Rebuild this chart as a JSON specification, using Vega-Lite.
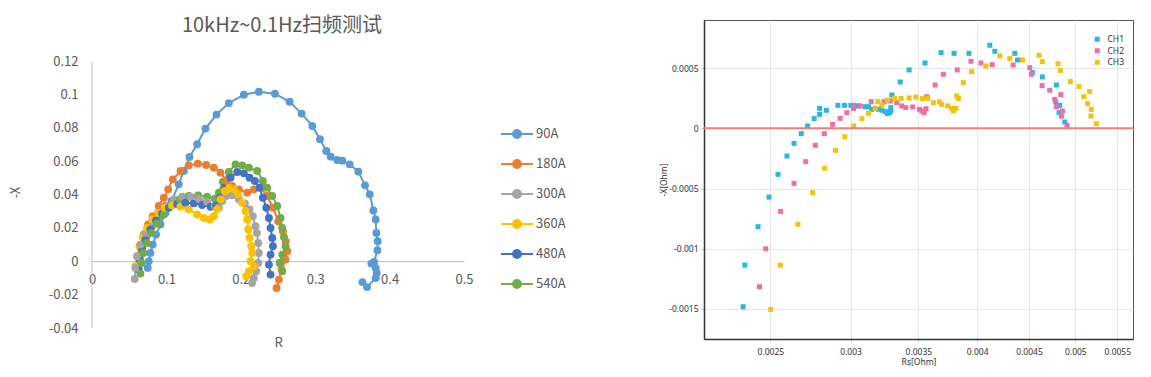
{
"$schema":"https://vega.github.io/schema/vega-lite/v6.json",
"padding":{"left":9,"top":16,"right":0,"bottom":0},
"background":"white",
"spacing":93,
"config":{"view":{"stroke":null},"axis":{"titleFontWeight":"normal","grid":false,"labelOverlap":false}},
"resolve":{"scale":{"color":"independent"},"legend":{"color":"independent"}},
"datasets":{
"yaxis":[{"ax":0,"lo":-0.04,"hi":0.12}],
"left":[
{"s":"90A","i":0,"R":0.0749,"X":-0.004},{"s":"90A","i":1,"R":0.0763,"X":0},{"s":"90A","i":2,"R":0.0785,"X":0.005},{"s":"90A","i":3,"R":0.0817,"X":0.01},{"s":"90A","i":4,"R":0.0861,"X":0.016},{"s":"90A","i":5,"R":0.092,"X":0.022},{"s":"90A","i":6,"R":0.0987,"X":0.029},{"s":"90A","i":7,"R":0.1068,"X":0.0361},{"s":"90A","i":8,"R":0.1166,"X":0.0461},{"s":"90A","i":9,"R":0.1234,"X":0.0541},{"s":"90A","i":10,"R":0.131,"X":0.0625},{"s":"90A","i":11,"R":0.1413,"X":0.0701},{"s":"90A","i":12,"R":0.1525,"X":0.0795},{"s":"90A","i":13,"R":0.1673,"X":0.0879},{"s":"90A","i":14,"R":0.1839,"X":0.0948},{"s":"90A","i":15,"R":0.2041,"X":0.0998},{"s":"90A","i":16,"R":0.2243,"X":0.1016},{"s":"90A","i":17,"R":0.2459,"X":0.1004},{"s":"90A","i":18,"R":0.2656,"X":0.0956},{"s":"90A","i":19,"R":0.2817,"X":0.0885},{"s":"90A","i":20,"R":0.2961,"X":0.0811},{"s":"90A","i":21,"R":0.3064,"X":0.0731},{"s":"90A","i":22,"R":0.3149,"X":0.0661},{"s":"90A","i":23,"R":0.3208,"X":0.0627},{"s":"90A","i":24,"R":0.3297,"X":0.0607},{"s":"90A","i":25,"R":0.3365,"X":0.0603},{"s":"90A","i":26,"R":0.3463,"X":0.0581},{"s":"90A","i":27,"R":0.358,"X":0.0537},{"s":"90A","i":28,"R":0.367,"X":0.0455},{"s":"90A","i":29,"R":0.3733,"X":0.0401},{"s":"90A","i":30,"R":0.3782,"X":0.0304},{"s":"90A","i":31,"R":0.3813,"X":0.025},{"s":"90A","i":32,"R":0.3822,"X":0.017},{"s":"90A","i":33,"R":0.384,"X":0.012},{"s":"90A","i":34,"R":0.3836,"X":0.0066},{"s":"90A","i":35,"R":0.3791,"X":-0.0004},{"s":"90A","i":36,"R":0.3755,"X":-0.0014},{"s":"90A","i":37,"R":0.3813,"X":-0.004},{"s":"90A","i":38,"R":0.3827,"X":-0.007},{"s":"90A","i":39,"R":0.3813,"X":-0.01},{"s":"90A","i":40,"R":0.3697,"X":-0.0155},{"s":"90A","i":41,"R":0.3635,"X":-0.0125},
{"s":"180A","i":0,"R":0.0606,"X":-0.003},{"s":"180A","i":1,"R":0.0619,"X":0.003},{"s":"180A","i":2,"R":0.0651,"X":0.01},{"s":"180A","i":3,"R":0.0695,"X":0.016},{"s":"180A","i":4,"R":0.0754,"X":0.022},{"s":"180A","i":5,"R":0.0817,"X":0.027},{"s":"180A","i":6,"R":0.0897,"X":0.0331},{"s":"180A","i":7,"R":0.0965,"X":0.0381},{"s":"180A","i":8,"R":0.1023,"X":0.0431},{"s":"180A","i":9,"R":0.1086,"X":0.0491},{"s":"180A","i":10,"R":0.1189,"X":0.0541},{"s":"180A","i":11,"R":0.1301,"X":0.0575},{"s":"180A","i":12,"R":0.1422,"X":0.0585},{"s":"180A","i":13,"R":0.1534,"X":0.0577},{"s":"180A","i":14,"R":0.1638,"X":0.0561},{"s":"180A","i":15,"R":0.1727,"X":0.0531},{"s":"180A","i":16,"R":0.1808,"X":0.0481},{"s":"180A","i":17,"R":0.1884,"X":0.0451},{"s":"180A","i":18,"R":0.1974,"X":0.0431},{"s":"180A","i":19,"R":0.2086,"X":0.0411},{"s":"180A","i":20,"R":0.2176,"X":0.0431},{"s":"180A","i":21,"R":0.2266,"X":0.0441},{"s":"180A","i":22,"R":0.2355,"X":0.0391},{"s":"180A","i":23,"R":0.2432,"X":0.0321},{"s":"180A","i":24,"R":0.2503,"X":0.024},{"s":"180A","i":25,"R":0.2566,"X":0.018},{"s":"180A","i":26,"R":0.2602,"X":0.012},{"s":"180A","i":27,"R":0.2625,"X":0.006},{"s":"180A","i":28,"R":0.2602,"X":0.001},{"s":"180A","i":29,"R":0.2548,"X":-0.005},{"s":"180A","i":30,"R":0.2512,"X":-0.011},{"s":"180A","i":31,"R":0.2481,"X":-0.016},
{"s":"300A","i":0,"R":0.0574,"X":-0.0106},{"s":"300A","i":1,"R":0.0583,"X":-0.004},{"s":"300A","i":2,"R":0.0606,"X":0.003},{"s":"300A","i":3,"R":0.0651,"X":0.01},{"s":"300A","i":4,"R":0.0718,"X":0.017},{"s":"300A","i":5,"R":0.0808,"X":0.024},{"s":"300A","i":6,"R":0.0897,"X":0.029},{"s":"300A","i":7,"R":0.0987,"X":0.0335},{"s":"300A","i":8,"R":0.1099,"X":0.0371},{"s":"300A","i":9,"R":0.1211,"X":0.0387},{"s":"300A","i":10,"R":0.1323,"X":0.0387},{"s":"300A","i":11,"R":0.1436,"X":0.0375},{"s":"300A","i":12,"R":0.1548,"X":0.0355},{"s":"300A","i":13,"R":0.1651,"X":0.0331},{"s":"300A","i":14,"R":0.1705,"X":0.0321},{"s":"300A","i":15,"R":0.175,"X":0.0361},{"s":"300A","i":16,"R":0.1803,"X":0.0391},{"s":"300A","i":17,"R":0.1884,"X":0.0395},{"s":"300A","i":18,"R":0.1974,"X":0.0371},{"s":"300A","i":19,"R":0.2055,"X":0.0347},{"s":"300A","i":20,"R":0.2118,"X":0.031},{"s":"300A","i":21,"R":0.2162,"X":0.027},{"s":"300A","i":22,"R":0.2198,"X":0.021},{"s":"300A","i":23,"R":0.2216,"X":0.017},{"s":"300A","i":24,"R":0.2234,"X":0.011},{"s":"300A","i":25,"R":0.2243,"X":0.005},{"s":"300A","i":26,"R":0.2234,"X":-0.001},{"s":"300A","i":27,"R":0.2207,"X":-0.006},{"s":"300A","i":28,"R":0.2176,"X":-0.01},{"s":"300A","i":29,"R":0.2153,"X":-0.013},
{"s":"360A","i":0,"R":0.0583,"X":-0.003},{"s":"360A","i":1,"R":0.0606,"X":0.003},{"s":"360A","i":2,"R":0.0637,"X":0.009},{"s":"360A","i":3,"R":0.0682,"X":0.0146},{"s":"360A","i":4,"R":0.074,"X":0.02},{"s":"360A","i":5,"R":0.0808,"X":0.025},{"s":"360A","i":6,"R":0.0888,"X":0.029},{"s":"360A","i":7,"R":0.0978,"X":0.0321},{"s":"360A","i":8,"R":0.1077,"X":0.0335},{"s":"360A","i":9,"R":0.1189,"X":0.0327},{"s":"360A","i":10,"R":0.1301,"X":0.0311},{"s":"360A","i":11,"R":0.1413,"X":0.028},{"s":"360A","i":12,"R":0.1503,"X":0.026},{"s":"360A","i":13,"R":0.1579,"X":0.025},{"s":"360A","i":14,"R":0.1638,"X":0.027},{"s":"360A","i":15,"R":0.1682,"X":0.0311},{"s":"360A","i":16,"R":0.1727,"X":0.0371},{"s":"360A","i":17,"R":0.1786,"X":0.0421},{"s":"360A","i":18,"R":0.1848,"X":0.0441},{"s":"360A","i":19,"R":0.1907,"X":0.0431},{"s":"360A","i":20,"R":0.1965,"X":0.0401},{"s":"360A","i":21,"R":0.2019,"X":0.0351},{"s":"360A","i":22,"R":0.2064,"X":0.03},{"s":"360A","i":23,"R":0.2086,"X":0.025},{"s":"360A","i":24,"R":0.21,"X":0.019},{"s":"360A","i":25,"R":0.2118,"X":0.014},{"s":"360A","i":26,"R":0.214,"X":0.009},{"s":"360A","i":27,"R":0.2153,"X":0.005},{"s":"360A","i":28,"R":0.2131,"X":0},{"s":"360A","i":29,"R":0.2176,"X":-0.003},{"s":"360A","i":30,"R":0.2109,"X":-0.006},{"s":"360A","i":31,"R":0.2073,"X":-0.009},
{"s":"480A","i":0,"R":0.0628,"X":-0.005},{"s":"480A","i":1,"R":0.0642,"X":0.001},{"s":"480A","i":2,"R":0.0673,"X":0.007},{"s":"480A","i":3,"R":0.0718,"X":0.013},{"s":"480A","i":4,"R":0.0785,"X":0.019},{"s":"480A","i":5,"R":0.0861,"X":0.0244},{"s":"480A","i":6,"R":0.0942,"X":0.0286},{"s":"480A","i":7,"R":0.1032,"X":0.0321},{"s":"480A","i":8,"R":0.1144,"X":0.0343},{"s":"480A","i":9,"R":0.1256,"X":0.0351},{"s":"480A","i":10,"R":0.1368,"X":0.0347},{"s":"480A","i":11,"R":0.148,"X":0.0337},{"s":"480A","i":12,"R":0.1593,"X":0.0327},{"s":"480A","i":13,"R":0.1669,"X":0.0335},{"s":"480A","i":14,"R":0.1723,"X":0.0381},{"s":"480A","i":15,"R":0.1786,"X":0.0441},{"s":"480A","i":16,"R":0.1862,"X":0.0501},{"s":"480A","i":17,"R":0.1952,"X":0.0535},{"s":"480A","i":18,"R":0.2041,"X":0.0527},{"s":"480A","i":19,"R":0.2118,"X":0.0501},{"s":"480A","i":20,"R":0.2189,"X":0.0481},{"s":"480A","i":21,"R":0.2252,"X":0.0441},{"s":"480A","i":22,"R":0.2297,"X":0.0381},{"s":"480A","i":23,"R":0.2342,"X":0.0321},{"s":"480A","i":24,"R":0.2378,"X":0.026},{"s":"480A","i":25,"R":0.24,"X":0.02},{"s":"480A","i":26,"R":0.2423,"X":0.014},{"s":"480A","i":27,"R":0.2432,"X":0.009},{"s":"480A","i":28,"R":0.24,"X":0.004},{"s":"480A","i":29,"R":0.2378,"X":-0.002},{"s":"480A","i":30,"R":0.24,"X":-0.008},
{"s":"540A","i":0,"R":0.0651,"X":-0.0074},{"s":"540A","i":1,"R":0.0664,"X":-0.001},{"s":"540A","i":2,"R":0.0691,"X":0.005},{"s":"540A","i":3,"R":0.0736,"X":0.011},{"s":"540A","i":4,"R":0.0799,"X":0.017},{"s":"540A","i":5,"R":0.0875,"X":0.0226},{"s":"540A","i":6,"R":0.0965,"X":0.028},{"s":"540A","i":7,"R":0.1068,"X":0.0335},{"s":"540A","i":8,"R":0.118,"X":0.0371},{"s":"540A","i":9,"R":0.1301,"X":0.0391},{"s":"540A","i":10,"R":0.1427,"X":0.0395},{"s":"540A","i":11,"R":0.1548,"X":0.0387},{"s":"540A","i":12,"R":0.1651,"X":0.0375},{"s":"540A","i":13,"R":0.1705,"X":0.0411},{"s":"540A","i":14,"R":0.1759,"X":0.0475},{"s":"540A","i":15,"R":0.1839,"X":0.0535},{"s":"540A","i":16,"R":0.1929,"X":0.0581},{"s":"540A","i":17,"R":0.2019,"X":0.0575},{"s":"540A","i":18,"R":0.2109,"X":0.0561},{"s":"540A","i":19,"R":0.2221,"X":0.0541},{"s":"540A","i":20,"R":0.2297,"X":0.0481},{"s":"540A","i":21,"R":0.2355,"X":0.0441},{"s":"540A","i":22,"R":0.2423,"X":0.0391},{"s":"540A","i":23,"R":0.249,"X":0.0331},{"s":"540A","i":24,"R":0.2535,"X":0.026},{"s":"540A","i":25,"R":0.2557,"X":0.02},{"s":"540A","i":26,"R":0.258,"X":0.0146},{"s":"540A","i":27,"R":0.2602,"X":0.009},{"s":"540A","i":28,"R":0.2557,"X":0.004},{"s":"540A","i":29,"R":0.2521,"X":-0.001},{"s":"540A","i":30,"R":0.2557,"X":-0.006}
],
"right":[
{"ch":"CH1","rs":0.00235,"x":-0.001482},{"ch":"CH1","rs":0.002359,"x":-0.001136},{"ch":"CH1","rs":0.002431,"x":-0.000817},{"ch":"CH1","rs":0.002492,"x":-0.000571},{"ch":"CH1","rs":0.002544,"x":-0.000382},{"ch":"CH1","rs":0.002596,"x":-0.00023},{"ch":"CH1","rs":0.002638,"x":-0.000125},{"ch":"CH1","rs":0.002682,"x":-0.0000443},{"ch":"CH1","rs":0.002721,"x":0.0000194},{"ch":"CH1","rs":0.002762,"x":0.0000803},{"ch":"CH1","rs":0.002796,"x":0.000116},{"ch":"CH1","rs":0.002796,"x":0.000166},{"ch":"CH1","rs":0.002839,"x":0.00015},{"ch":"CH1","rs":0.002915,"x":0.000191},{"ch":"CH1","rs":0.002959,"x":0.000191},{"ch":"CH1","rs":0.003002,"x":0.000191},{"ch":"CH1","rs":0.003032,"x":0.000186},{"ch":"CH1","rs":0.003055,"x":0.000186},{"ch":"CH1","rs":0.003101,"x":0.00018},{"ch":"CH1","rs":0.003125,"x":0.00018},{"ch":"CH1","rs":0.003148,"x":0.000158},{"ch":"CH1","rs":0.003197,"x":0.000158},{"ch":"CH1","rs":0.003221,"x":0.00015},{"ch":"CH1","rs":0.003245,"x":0.000139},{"ch":"CH1","rs":0.003262,"x":0.000122},{"ch":"CH1","rs":0.003277,"x":0.00013},{"ch":"CH1","rs":0.003287,"x":0.000144},{"ch":"CH1","rs":0.003287,"x":0.000172},{"ch":"CH1","rs":0.003295,"x":0.000277},{"ch":"CH1","rs":0.003358,"x":0.000385},{"ch":"CH1","rs":0.003427,"x":0.000485},{"ch":"CH1","rs":0.003553,"x":0.000543},{"ch":"CH1","rs":0.003685,"x":0.000629},{"ch":"CH1","rs":0.003795,"x":0.000623},{"ch":"CH1","rs":0.003926,"x":0.000623},{"ch":"CH1","rs":0.004117,"x":0.00069},{"ch":"CH1","rs":0.004164,"x":0.00064},{"ch":"CH1","rs":0.004357,"x":0.000623},{"ch":"CH1","rs":0.004384,"x":0.000568},{"ch":"CH1","rs":0.004535,"x":0.000463},{"ch":"CH1","rs":0.004639,"x":0.000427},{"ch":"CH1","rs":0.004789,"x":0.00036},{"ch":"CH1","rs":0.004782,"x":0.000219},{"ch":"CH1","rs":0.004826,"x":0.000191},{"ch":"CH1","rs":0.004818,"x":0.00013},{"ch":"CH1","rs":0.004881,"x":0.0000526},
{"ch":"CH2","rs":0.002439,"x":-0.001316},{"ch":"CH2","rs":0.002474,"x":-0.001},{"ch":"CH2","rs":0.002559,"x":-0.00069},{"ch":"CH2","rs":0.002638,"x":-0.000457},{"ch":"CH2","rs":0.002709,"x":-0.000277},{"ch":"CH2","rs":0.002769,"x":-0.000141},{"ch":"CH2","rs":0.002826,"x":-0.0000443},{"ch":"CH2","rs":0.00288,"x":0.0000332},{"ch":"CH2","rs":0.00293,"x":0.0000831},{"ch":"CH2","rs":0.002975,"x":0.00013},{"ch":"CH2","rs":0.00302,"x":0.000166},{"ch":"CH2","rs":0.00302,"x":0.000191},{"ch":"CH2","rs":0.003066,"x":0.000186},{"ch":"CH2","rs":0.003144,"x":0.000222},{"ch":"CH2","rs":0.003238,"x":0.000222},{"ch":"CH2","rs":0.003282,"x":0.000227},{"ch":"CH2","rs":0.003332,"x":0.000213},{"ch":"CH2","rs":0.00337,"x":0.000186},{"ch":"CH2","rs":0.003401,"x":0.000172},{"ch":"CH2","rs":0.003455,"x":0.000177},{"ch":"CH2","rs":0.003508,"x":0.000158},{"ch":"CH2","rs":0.003527,"x":0.000144},{"ch":"CH2","rs":0.003545,"x":0.00013},{"ch":"CH2","rs":0.003561,"x":0.000163},{"ch":"CH2","rs":0.003567,"x":0.000263},{"ch":"CH2","rs":0.003635,"x":0.00036},{"ch":"CH2","rs":0.003704,"x":0.000449},{"ch":"CH2","rs":0.003823,"x":0.000485},{"ch":"CH2","rs":0.003944,"x":0.000557},{"ch":"CH2","rs":0.004034,"x":0.000543},{"ch":"CH2","rs":0.004139,"x":0.000529},{"ch":"CH2","rs":0.004341,"x":0.000526},{"ch":"CH2","rs":0.004508,"x":0.000504},{"ch":"CH2","rs":0.004525,"x":0.000449},{"ch":"CH2","rs":0.004636,"x":0.000355},{"ch":"CH2","rs":0.004717,"x":0.000316},{"ch":"CH2","rs":0.004771,"x":0.000241},{"ch":"CH2","rs":0.004837,"x":0.00028},{"ch":"CH2","rs":0.004789,"x":0.00018},{"ch":"CH2","rs":0.004855,"x":0.000144},{"ch":"CH2","rs":0.004844,"x":0.000102},{"ch":"CH2","rs":0.004906,"x":0.0000249},
{"ch":"CH3","rs":0.002502,"x":-0.001504},{"ch":"CH3","rs":0.002557,"x":-0.001136},{"ch":"CH3","rs":0.002662,"x":-0.000798},{"ch":"CH3","rs":0.002752,"x":-0.000535},{"ch":"CH3","rs":0.002828,"x":-0.000332},{"ch":"CH3","rs":0.002899,"x":-0.000183},{"ch":"CH3","rs":0.002961,"x":-0.0000693},{"ch":"CH3","rs":0.00302,"x":0.0000194},{"ch":"CH3","rs":0.003078,"x":0.0000803},{"ch":"CH3","rs":0.003125,"x":0.000125},{"ch":"CH3","rs":0.003172,"x":0.000166},{"ch":"CH3","rs":0.003192,"x":0.000222},{"ch":"CH3","rs":0.003221,"x":0.000194},{"ch":"CH3","rs":0.003262,"x":0.000233},{"ch":"CH3","rs":0.003315,"x":0.000247},{"ch":"CH3","rs":0.003365,"x":0.000249},{"ch":"CH3","rs":0.003427,"x":0.000252},{"ch":"CH3","rs":0.003479,"x":0.00026},{"ch":"CH3","rs":0.003532,"x":0.000247},{"ch":"CH3","rs":0.003575,"x":0.000249},{"ch":"CH3","rs":0.003621,"x":0.000213},{"ch":"CH3","rs":0.003671,"x":0.000219},{"ch":"CH3","rs":0.00369,"x":0.000199},{"ch":"CH3","rs":0.003741,"x":0.000186},{"ch":"CH3","rs":0.003775,"x":0.000166},{"ch":"CH3","rs":0.003789,"x":0.000144},{"ch":"CH3","rs":0.003812,"x":0.000166},{"ch":"CH3","rs":0.003818,"x":0.000269},{"ch":"CH3","rs":0.003833,"x":0.000247},{"ch":"CH3","rs":0.003876,"x":0.000379},{"ch":"CH3","rs":0.00395,"x":0.000471},{"ch":"CH3","rs":0.00408,"x":0.000518},{"ch":"CH3","rs":0.004212,"x":0.000601},{"ch":"CH3","rs":0.004308,"x":0.000579},{"ch":"CH3","rs":0.004434,"x":0.000568},{"ch":"CH3","rs":0.004604,"x":0.000607},{"ch":"CH3","rs":0.004639,"x":0.000554},{"ch":"CH3","rs":0.004807,"x":0.000537},{"ch":"CH3","rs":0.004833,"x":0.000479},{"ch":"CH3","rs":0.004944,"x":0.000388},{"ch":"CH3","rs":0.005042,"x":0.000346},{"ch":"CH3","rs":0.005099,"x":0.000263},{"ch":"CH3","rs":0.005142,"x":0.000205},{"ch":"CH3","rs":0.005165,"x":0.000305},{"ch":"CH3","rs":0.005185,"x":0.000158},{"ch":"CH3","rs":0.005181,"x":0.000102},{"ch":"CH3","rs":0.005244,"x":0.0000388}
],
"zero":[{"z":0}]
},
"hconcat":[
{
"width":372,"height":308,
"title":{"text":"10kHz~0.1Hz扫频测试","fontSize":20,"font":"Noto Sans CJK SC","fontWeight":"normal","color":"#595959","offset":-16,"anchor":"middle","frame":"group","dx":4},
"layer":[
{"data":{"name":"yaxis"},"mark":{"type":"rule","color":"#bfbfbf","strokeWidth":1},
"encoding":{
"x":{"field":"ax","type":"quantitative","scale":{"domain":[0,0.5],"nice":false,"zero":false},
 "axis":{"values":[0,0.1,0.2,0.3,0.4,0.5],"format":"~g","offset":-67,"domainColor":"#bfbfbf","ticks":false,"labelPadding":12,"labelFontSize":13,"labelColor":"#595959","labelFont":"Noto Sans CJK SC","labelFlush":false,"labelOverlap":false,"title":"R","titleFontSize":13,"titleColor":"#595959","titleFont":"Noto Sans CJK SC","titlePadding":50}},
"y":{"field":"lo","type":"quantitative","scale":{"domain":[-0.04,0.1446],"nice":false,"zero":false},
 "axis":{"values":[-0.04,-0.02,0,0.02,0.04,0.06,0.08,0.1,0.12],"labelExpr":"replace(format(datum.value,'~g'),'\u2212','-')","domain":false,"ticks":false,"labelPadding":14,"labelFontSize":13,"labelColor":"#595959","labelFont":"Noto Sans CJK SC","labelOverlap":false,"title":"-X","titleFontSize":13,"titleColor":"#595959","titleFont":"Noto Sans CJK SC","titlePadding":26,"titleY":172}},
"y2":{"field":"hi"}
}},
{"data":{"name":"left"},
"mark":{"type":"line","strokeWidth":2,"point":{"filled":true,"size":62}},
"encoding":{
"x":{"field":"R","type":"quantitative","scale":{"domain":[0,0.5],"nice":false,"zero":false},
 "axis":{"values":[0,0.1,0.2,0.3,0.4,0.5],"format":"~g","offset":-67,"domainColor":"#bfbfbf","ticks":false,"labelPadding":12,"labelFontSize":13,"labelColor":"#595959","labelFont":"Noto Sans CJK SC","labelFlush":false,"labelOverlap":false,"title":"R","titleFontSize":13,"titleColor":"#595959","titleFont":"Noto Sans CJK SC","titlePadding":50}},
"y":{"field":"X","type":"quantitative","scale":{"domain":[-0.04,0.1446],"nice":false,"zero":false},
 "axis":{"values":[-0.04,-0.02,0,0.02,0.04,0.06,0.08,0.1,0.12],"labelExpr":"replace(format(datum.value,'~g'),'\u2212','-')","domain":false,"ticks":false,"labelPadding":14,"labelFontSize":13,"labelColor":"#595959","labelFont":"Noto Sans CJK SC","labelOverlap":false,"title":"-X","titleFontSize":13,"titleColor":"#595959","titleFont":"Noto Sans CJK SC","titlePadding":26,"titleY":172}},
"color":{"field":"s","type":"nominal","scale":{"domain":["90A","180A","300A","360A","480A","540A"],"range":["#5b9bd5","#ed7d31","#a5a5a5","#ffc000","#4472c4","#70ad47"]},
 "legend":{"orient":"none","legendX":416,"legendY":105,"title":null,"symbolType":"M-2,0H2M0.5,0A0.5,0.5,0,1,1,-0.5,0A0.5,0.5,0,1,1,0.5,0Z","symbolSize":256,"symbolStrokeWidth":2,"labelFontSize":13,"labelColor":"#595959","labelFont":"Noto Sans CJK SC","labelOffset":10,"rowPadding":13}},
"order":{"field":"i","type":"quantitative"}
}}
]
},
{
"width":429,"height":319,
"view":{"stroke":"#555555","strokeWidth":1},
"layer":[
{"data":{"name":"right"},"mark":{"type":"square","size":25,"opacity":1},
"encoding":{
"x":{"field":"rs","type":"quantitative","scale":{"type":"log","domain":[0.00215,0.0057],"nice":false},
 "axis":{"values":[0.0025,0.003,0.0035,0.004,0.0045,0.005,0.0055],"format":"~g","grid":true,"gridColor":"#e6e6e6","domainColor":"#333333","domainWidth":1.5,"tickColor":"#9fd3ea","tickSize":3,"labelPadding":5,"labelFontSize":8.5,"labelColor":"#333333","labelFont":"Noto Sans","labelFlush":false,"labelOverlap":false,"title":"Rs[Ohm]","titleFontSize":8.5,"titleColor":"#333333","titleFont":"Noto Sans","titlePadding":2}},
"y":{"field":"x","type":"quantitative","scale":{"domain":[-0.00175,0.0009],"nice":false,"zero":false},
 "axis":{"values":[-0.0015,-0.001,-0.0005,0,0.0005],"labelExpr":"replace(format(datum.value,'~g'),'\u2212','-')","grid":true,"gridColor":"#e6e6e6","domainColor":"#333333","domainWidth":1.5,"tickColor":"#9fd3ea","tickSize":3,"labelPadding":3,"labelFontSize":8.5,"labelColor":"#333333","labelFont":"Noto Sans","labelOverlap":false,"title":"-X[Ohm]","titleFontSize":8.5,"titleColor":"#333333","titleFont":"Noto Sans","titlePadding":0}},
"color":{"field":"ch","type":"nominal","scale":{"domain":["CH1","CH2","CH3"],"range":["#29b6e6","#ef6ea6","#f1c40f"]},
 "legend":{"orient":"none","legendX":389,"legendY":15,"title":null,"symbolType":"square","symbolSize":25,"labelFontSize":8.5,"labelColor":"#333333","labelFont":"Noto Sans","labelOffset":6,"rowPadding":2.5}}
}},
{"data":{"name":"zero"},"mark":{"type":"rule","color":"#f07f77","strokeWidth":2},"encoding":{"y":{"field":"z","type":"quantitative"}}}
]
}
]
}
